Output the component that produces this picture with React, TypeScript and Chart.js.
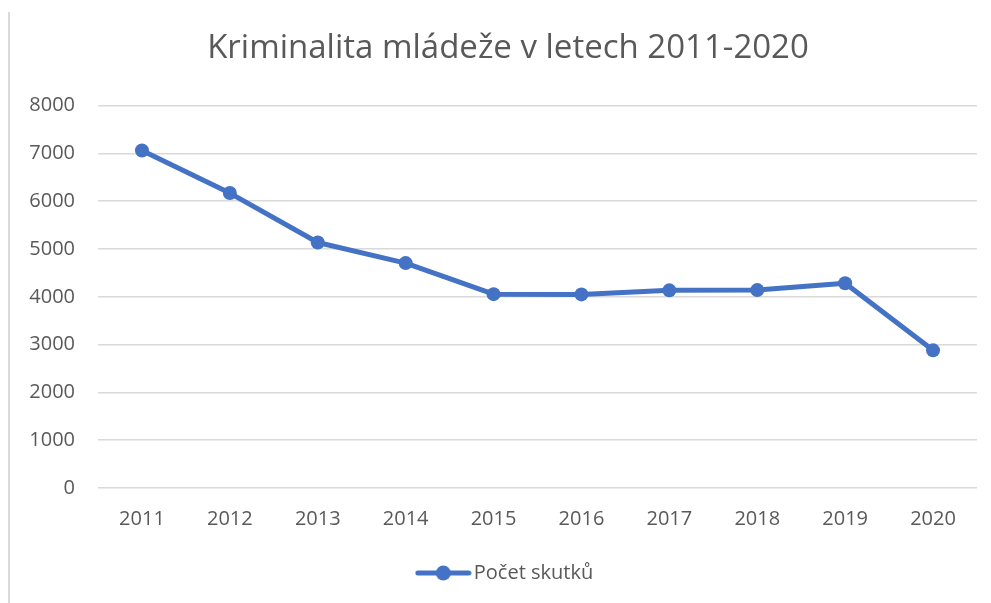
import React, { useEffect, useRef } from "react";
import { Chart, registerables } from "chart.js";

Chart.register(...registerables);

const categories = ["2011", "2012", "2013", "2014", "2015", "2016", "2017", "2018", "2019", "2020"];
const values = [7060, 6170, 5135, 4705, 4055, 4050, 4135, 4140, 4285, 2880];
const seriesLabel = "Počet skutků";
const chartTitle = "Kriminalita mládeže v letech 2011-2020";
const yMin = 0;
const yMax = 8000;
const yStep = 1000;

const BLUE = "#4472C4";
const TEXT = "#595959";
const GRID = "#d9d9d9";
const FONT = "'Open Sans', Lato, sans-serif";

export default function App() {
  const ref = useRef<HTMLCanvasElement | null>(null);

  useEffect(() => {
    if (!ref.current) return;
    const icon = document.createElement("canvas");
    icon.width = 57;
    icon.height = 16;
    const ictx = icon.getContext("2d");
    if (ictx) {
      ictx.strokeStyle = BLUE;
      ictx.lineWidth = 5;
      ictx.lineCap = "round";
      ictx.beginPath();
      ictx.moveTo(3, 8);
      ictx.lineTo(54, 8);
      ictx.stroke();
      ictx.fillStyle = BLUE;
      ictx.beginPath();
      ictx.arc(28.5, 8, 7.5, 0, Math.PI * 2);
      ictx.fill();
    }

    const chart = new Chart(ref.current, {
      type: "line",
      data: {
        labels: categories,
        datasets: [
          {
            label: seriesLabel,
            data: values,
            yAxisID: "y",
            borderColor: BLUE,
            backgroundColor: BLUE,
            borderWidth: 5,
            pointRadius: 7,
            pointHoverRadius: 7,
            pointBackgroundColor: BLUE,
            pointBorderColor: BLUE,
            pointBorderWidth: 0,
            tension: 0,
            borderJoinStyle: "round",
            borderCapStyle: "round",
          },
        ],
      },
      options: {
        animation: false,
        responsive: false,
        devicePixelRatio: 1,
        layout: { padding: { left: 20, right: 4, top: 0, bottom: 10 } },
        plugins: {
          title: {
            display: true,
            text: chartTitle,
            color: TEXT,
            font: { family: FONT, size: 33, weight: "normal" },
            padding: { top: 29, bottom: 37 },
          },
          legend: {
            display: true,
            position: "bottom",
            labels: {
              color: TEXT,
              font: { family: FONT, size: 20 },
              usePointStyle: true,
              pointStyle: icon as any,
              pointStyleWidth: 41,
              padding: 10,
            },
          },
          tooltip: { enabled: false },
        },
        scales: {
          x: {
            offset: true,
            grid: { display: false, drawTicks: false },
            border: { display: false },
            ticks: {
              color: TEXT,
              font: { family: FONT, size: 20 },
              padding: 19,
              maxRotation: 0,
            },
            afterFit: (scale: any) => {
              scale.height = 65;
            },
          },
          y: {
            min: yMin,
            max: yMax,
            grid: { color: GRID, lineWidth: 1.5, drawTicks: false },
            border: { display: false },
            ticks: {
              stepSize: yStep,
              color: TEXT,
              font: { family: FONT, size: 20 },
              padding: 23,
              callback: (v: any) => String(v),
            },
            afterFit: (scale: any) => {
              scale.width = 78;
            },
          },
          yRight: {
            position: "right",
            display: true,
            grid: { display: false, drawTicks: false },
            border: { display: false },
            ticks: { display: false },
            afterFit: (scale: any) => {
              scale.width = 19;
            },
          },
        },
      },
    });
    return () => chart.destroy();
  }, []);

  return (
    <div style={{ position: "fixed", left: 0, top: 0, width: 991, height: 603, background: "#fff", overflow: "hidden" }}>
      <canvas ref={ref} width={1000} height={603} style={{ position: "absolute", left: 0, top: 0, width: 1000, height: 603 }} />
      <div style={{ position: "absolute", left: 8, top: 12, width: 2, height: 591, background: GRID }} />
    </div>
  );
}
